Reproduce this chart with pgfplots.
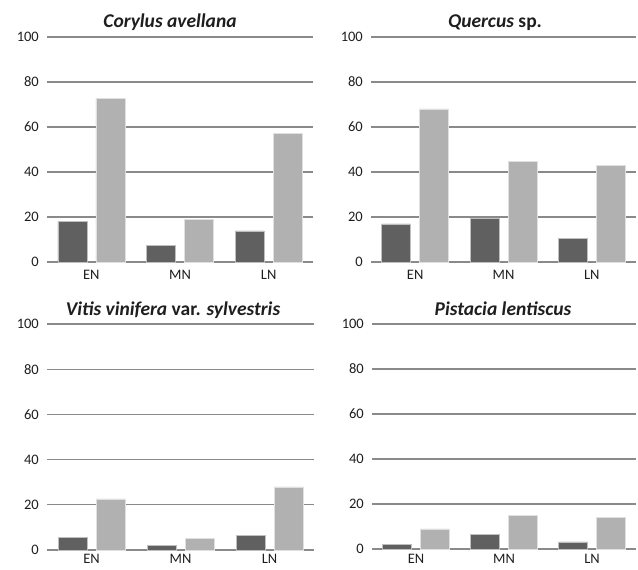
\documentclass[border=0pt]{standalone}
\usepackage{fontspec}
\setmainfont{Carlito}
\usepackage{pgfplots}
\pgfplotsset{compat=1.18}
\definecolor{darkbar}{HTML}{606060}
\definecolor{lightbar}{HTML}{B1B1B1}
\definecolor{gridc}{HTML}{8A8A8A}
\definecolor{txt}{HTML}{1E1E1E}
\pgfplotsset{panel/.style={
  scale only axis, anchor=south west,
  xmin=-0.5, xmax=2.5, ymin=0, ymax=100,
  xtick={0,1,2}, xticklabels={EN,MN,LN},
  ytick={0,20,40,60,80,100},
  axis line style={draw=none},
  major tick length=0pt,
  ymajorgrids, major grid style={gridc, line width=1.3bp},
  tick label style={font=\fontsize{14.5bp}{16bp}\selectfont, text=txt},
  yticklabel style={anchor=east, inner sep=0pt, xshift=-8bp},
  xticklabel style={anchor=base, inner sep=0pt, yshift=#1},
  /pgf/number format/assume math mode=true,
  bar width=29bp,
  clip=false,
},
darkser/.style={ybar, bar shift=-19bp, fill=darkbar, draw=white!60!darkbar, line width=0.5bp},
lightser/.style={ybar, bar shift=19bp, fill=lightbar, draw=white!60!lightbar, line width=0.5bp},
}
\tikzset{ttl/.style={anchor=base, inner sep=0pt, text=txt, font=\fontsize{19.5bp}{21bp}\selectfont\bfseries\itshape}}
\begin{document}
\begin{tikzpicture}
\path[use as bounding box] (0,0) rectangle (638bp,570bp);
\clip (0,0) rectangle (638bp,570bp);
% Corylus avellana
\begin{axis}[panel=-18bp, at={(47bp,308bp)}, width=266bp, height=225bp]
\addplot[darkser] coordinates {(0,18.0) (1,7.4) (2,13.8)};
\addplot[lightser] coordinates {(0,72.6) (1,19.0) (2,57.2)};
\end{axis}
% Quercus sp.
\begin{axis}[panel=-18bp, at={(371bp,308bp)}, width=265bp, height=225bp]
\addplot[darkser] coordinates {(0,16.9) (1,19.4) (2,10.4)};
\addplot[lightser] coordinates {(0,68.1) (1,44.7) (2,43.0)};
\end{axis}
% Vitis vinifera var. sylvestris
\begin{axis}[panel=-13bp, at={(47bp,20bp)}, width=267bp, height=226bp]
\addplot[darkser] coordinates {(0,5.6) (1,2.1) (2,6.6)};
\addplot[lightser] coordinates {(0,22.6) (1,5.2) (2,27.9)};
\end{axis}
% Pistacia lentiscus
\begin{axis}[panel=-14bp, at={(372bp,21bp)}, width=264bp, height=225bp]
\addplot[darkser] coordinates {(0,2.0) (1,6.4) (2,3.2)};
\addplot[lightser] coordinates {(0,8.9) (1,15.1) (2,14.0)};
\end{axis}
\node[ttl] at (170bp,542bp) {Corylus avellana};
\node[ttl] at (495bp,542bp) {Quercus \textup{sp.}};
\node[ttl] at (173bp,254bp) {Vitis vinifera \textup{var.} sylvestris};
\node[ttl] at (503bp,254bp) {Pistacia lentiscus};
\end{tikzpicture}
\end{document}
